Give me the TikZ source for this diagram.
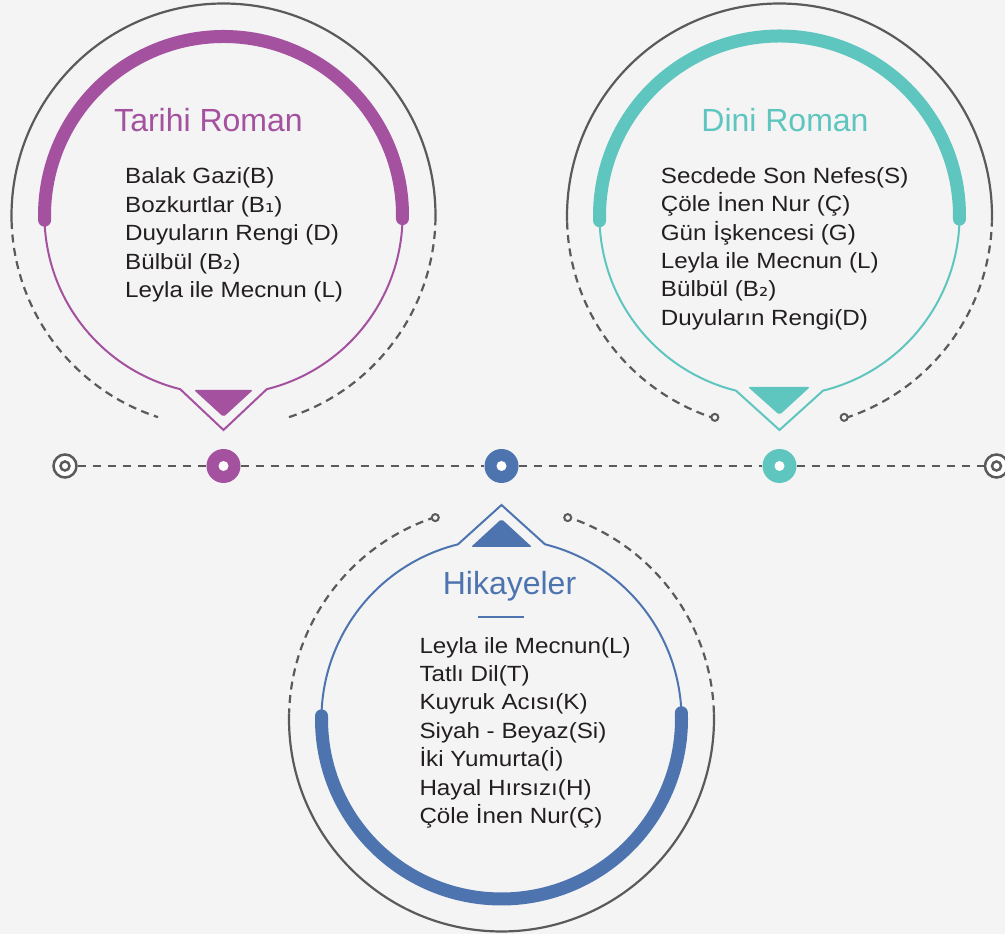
\documentclass[tikz,border=0pt]{standalone}
\usepackage{fontspec}
\setmainfont{Liberation Sans}
\newfontfamily\bodyf[FakeStretch=1.1]{Liberation Sans}
\newfontfamily\subf[FakeStretch=1.05]{DejaVu Sans}
\definecolor{bg}{HTML}{F4F4F4}
\definecolor{lgray}{HTML}{5A5A5A}
\definecolor{cpurple}{HTML}{A4519F}
\definecolor{cteal}{HTML}{5EC5BF}
\definecolor{cblue}{HTML}{4E74B0}
\definecolor{txt}{HTML}{231F20}
\tikzset{
  graysolid/.style={draw=lgray, line width=2.2pt},
  graydash/.style={draw=lgray, line width=2.2pt, dash pattern=on 8pt off 5.5pt},
  tline/.style={draw=lgray, line width=2.6pt, dash pattern=on 8.5pt off 6.5pt},
  bigarc/.style={line width=13pt, line cap=round},
  thinline/.style={line width=2pt, line join=miter},
  titletext/.style={font=\fontsize{32}{38}\selectfont, anchor=base, inner sep=0pt},
  itemtext/.style={font=\bodyf\fontsize{22}{28}\selectfont, anchor=base west, text=txt, inner sep=0pt},
  bigdot/.style={circle, minimum size=34pt, inner sep=0pt, draw=none},
  endring/.style={circle, minimum size=23pt, inner sep=0pt, draw=lgray, line width=2.5pt, fill=white},
  endcirc/.style={circle, minimum size=7pt, inner sep=0pt, draw=lgray, line width=2pt, fill=bg},
}
\begin{document}
\begin{tikzpicture}[x=1pt,y=1pt]
\useasboundingbox (0,0) rectangle (1005,934);
\fill[bg] (0,0) rectangle (1005,934);

\coordinate (c1) at (223.5,718.5);
\coordinate (c2) at (779.5,718);
\coordinate (c3) at (501.5,215);

% ---------- Tarihi Roman ----------
\draw[graysolid] ([shift={(-1.5:212)}]c1) arc[start angle=-1.5, end angle=181.5, radius=212];
\draw[graydash] ([shift={(181.5:212)}]c1) arc[start angle=181.5, end angle=252, radius=212];
\draw[graydash] ([shift={(288:212)}]c1) arc[start angle=288, end angle=358.5, radius=212];
\draw[cpurple, thinline] ([shift={(284:179)}]c1) arc[start angle=284, end angle=616, radius=179] -- (223.5,504) -- cycle;
\draw[cpurple, bigarc] ([shift={(-1:179)}]c1) arc[start angle=-1, end angle=181.5, radius=179];
\fill[cpurple, rounded corners=2pt] (194,544) -- (253,544) -- (223.5,517) -- cycle;
\node[titletext, text=cpurple] (t1) at (208.5,802.3) {Tarihi Roman};
\foreach \s [count=\i] in {Balak Gazi(B), Bozkurtlar (B{\subf ₁}), Duyuların Rengi (D), Bülbül (B{\subf ₂}), Leyla ile Mecnun (L)}{
  \node[itemtext] (ta\i) at (125,{750-28.4*(\i-1)}) {\s};
}

% ---------- Dini Roman ----------
\draw[graysolid] ([shift={(-1.5:212.5)}]c2) arc[start angle=-1.5, end angle=181.5, radius=212.5];
\draw[graydash] ([shift={(181.5:212.5)}]c2) arc[start angle=181.5, end angle=252, radius=212.5];
\draw[graydash] ([shift={(288:212.5)}]c2) arc[start angle=288, end angle=358.5, radius=212.5];
\node[endcirc] (e21) at ([shift={(252.2:211.5)}]c2) {};
\node[endcirc] (e22) at ([shift={(287.8:211.5)}]c2) {};
\draw[cteal, thinline] ([shift={(284:180)}]c2) arc[start angle=284, end angle=616, radius=180] -- (779.5,504) -- cycle;
\draw[cteal, bigarc] ([shift={(-1:180)}]c2) arc[start angle=-1, end angle=181.5, radius=180];
\fill[cteal, rounded corners=2pt] (748,547) -- (810,547) -- (779.5,519) -- cycle;
\node[titletext, text=cteal] (t2) at (785,802) {Dini Roman};
\foreach \s [count=\i] in {Secdede Son Nefes(S), Çöle İnen Nur (Ç), Gün İşkencesi (G), Leyla ile Mecnun (L), Bülbül (B{\subf ₂}), Duyuların Rengi(D)}{
  \node[itemtext] (da\i) at (660.7,{750.5-28.35*(\i-1)}) {\s};
}

% ---------- Hikayeler ----------
\draw[graysolid] ([shift={(178.5:212.5)}]c3) arc[start angle=178.5, end angle=361.5, radius=212.5];
\draw[graydash] ([shift={(1.5:212.5)}]c3) arc[start angle=1.5, end angle=72, radius=212.5];
\draw[graydash] ([shift={(108:212.5)}]c3) arc[start angle=108, end angle=178.5, radius=212.5];
\node[endcirc] (e31) at ([shift={(71.8:212)}]c3) {};
\node[endcirc] (e32) at ([shift={(108.2:212)}]c3) {};
\draw[cblue, thinline] ([shift={(104:180)}]c3) arc[start angle=104, end angle=436, radius=180] -- (501.5,429) -- cycle;
\draw[cblue, bigarc] ([shift={(179:180)}]c3) arc[start angle=179, end angle=362, radius=180];
\fill[cblue, rounded corners=2pt] (471,387) -- (532,387) -- (501.5,415) -- cycle;
\node[titletext, text=cblue] (t3) at (509.5,339) {Hikayeler};
\draw[cblue, line width=2.5pt] (478,317) coordinate (u1) -- (524,317) coordinate (u2);
\foreach \s [count=\i] in {Leyla ile Mecnun(L), Tatlı Dil(T), Kuyruk Acısı(K), Siyah - Beyaz(Si), İki Yumurta(İ), Hayal Hırsızı(H), Çöle İnen Nur(Ç)}{
  \node[itemtext] (ha\i) at (419.3,{280.7-28.35*(\i-1)}) {\s};
}

% ---------- Timeline ----------
\node[endring] (rl) at (65,468) {};
\node[endring] (rr) at (996.5,468) {};
\node[bigdot, fill=cpurple] (da) at (223.5,468) {};
\node[bigdot, fill=cblue] (db) at (501.5,468) {};
\node[bigdot, fill=cteal] (dc) at (779.5,468) {};
\draw[tline] (rl) -- (da);
\draw[tline] (da) -- (db);
\draw[tline] (db) -- (dc);
\draw[tline] (dc) -- (rr);
\draw[lgray, line width=2.5pt] (rl.center) circle[radius=4.5];
\draw[lgray, line width=2.5pt] (rr.center) circle[radius=4.5];
\fill[white] (da.center) circle[radius=5];
\fill[white] (db.center) circle[radius=5];
\fill[white] (dc.center) circle[radius=5];
\end{tikzpicture}
\end{document}
